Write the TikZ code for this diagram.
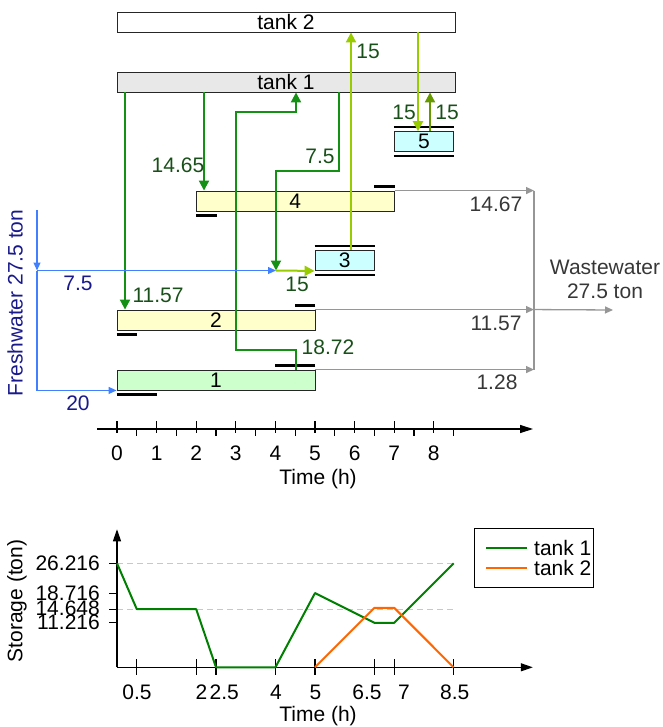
\documentclass[tikz,border=0pt]{standalone}
\usepackage{fontspec}
\setmainfont{Liberation Sans}
\usetikzlibrary{arrows.meta}
\definecolor{garrow}{RGB}{20,145,20}
\definecolor{glabel}{RGB}{25,80,25}
\definecolor{lgreen}{RGB}{153,204,0}
\definecolor{olive}{RGB}{102,153,0}
\definecolor{bline}{RGB}{64,128,255}
\definecolor{navy}{RGB}{25,25,140}
\definecolor{gline}{RGB}{150,150,150}
\definecolor{gtext}{RGB}{55,55,55}
\definecolor{tankgray}{RGB}{232,232,232}
\definecolor{opyellow}{RGB}{255,255,204}
\definecolor{opcyan}{RGB}{204,255,255}
\definecolor{opgreen}{RGB}{204,255,204}
\definecolor{cgreen}{RGB}{0,128,0}
\definecolor{corange}{RGB}{255,102,0}
\definecolor{dashgray}{RGB}{200,200,200}
\begin{document}
\begin{tikzpicture}[x=1pt,y=-1pt,
  every node/.style={font=\fontsize{21}{25}\selectfont, inner sep=0pt},
  box/.style={draw=black!85, line width=0.9pt, minimum height=20pt},
  garr/.style={draw=garrow, line width=2pt, -{Triangle[length=10pt,width=10pt]}},
  lgarr/.style={draw=lgreen, line width=2pt, -{Triangle[length=10pt,width=10pt]}},
  olarr/.style={draw=olive, line width=2pt, -{Triangle[length=10pt,width=10pt]}},
  barr/.style={draw=bline, line width=1.2pt, -{Triangle[length=8pt,width=7pt]}},
  grarr/.style={draw=gline, line width=1.3pt, -{Triangle[length=8pt,width=7pt]}},
  grline/.style={draw=gline, line width=1.3pt},
  bar/.style={draw=black, line width=2.2pt},
  glab/.style={text=glabel},
  blab/.style={text=navy},
  grlab/.style={text=gtext}]
\useasboundingbox (0,0) rectangle (662,727);

% tanks and operations
\node[box, fill=white, minimum width=338pt] (t2) at (286,22) {tank 2};
\node[box, fill=tankgray, minimum width=338pt] (t1) at (286,82) {tank 1};
\node[box, fill=opcyan, minimum width=59.4pt] (o5) at (423.9,141.7) {5};
\node[box, fill=opyellow, minimum width=198pt] (o4) at (295.2,201) {4};
\node[box, fill=opcyan, minimum width=59.4pt] (o3) at (344.7,260.5) {3};
\node[box, fill=opyellow, minimum width=198pt] (o2) at (216,320) {2};
\node[box, fill=opgreen, minimum width=198pt] (o1) at (216,380) {1};

% black bars
\draw[bar] ([yshift=4]o5.north west) -- ([yshift=4]o5.north east);
\draw[bar] ([yshift=-4]o5.south west) -- ([yshift=-4]o5.south east);
\draw[bar] ([yshift=3.8]o3.north west) -- ([yshift=3.8]o3.north east);
\draw[bar] ([yshift=-4]o3.south west) -- ([yshift=-4]o3.south east);
\draw[bar] ([yshift=-4]o4.south west) -- ++(21,0);
\draw[bar] ([yshift=4]o4.north east) -- ++(-21,0);
\draw[bar] ([yshift=-4]o2.south west) -- ++(20,0);
\draw[bar] ([yshift=4]o2.north east) -- ++(-20,0);
\draw[bar] ([yshift=-4]o1.south west) -- ++(40,0);
\draw[bar] ([yshift=4]o1.north east) -- ++(-40,0);

% column coordinates
\coordinate (cA) at (125,0);
\coordinate (cB) at (204,0);
\coordinate (cD) at (296,0);
\coordinate (cE) at (339,0);
\coordinate (cG) at (351,0);
\coordinate (cH) at (418,0);
\coordinate (cI) at (430,0);
\coordinate (cW) at (534,0);
\coordinate (g3a) at (236,350);
\coordinate (g3b) at (296,112);
\coordinate (g4a) at (276,171);
\coordinate (mix) at (276,270.5);
\coordinate (fwtop) at (37,210);
\coordinate (fj) at (37,270.5);
\coordinate (wout) at (613,310);

% green flows
\draw[garr] (t1.south -| cA) -- (o2.north -| cA);
\draw[garr] (t1.south -| cB) -- (o4.north -| cB);
\draw[garr] (o1.north -| cD) |- (g3a) |- (g3b) -- (t1.south -| cD);
\draw[garr] (t1.south -| cE) |- (g4a) -- (mix);
\draw[lgarr] (o3.north -| cG) -- (t2.south -| cG);
\draw[lgarr] (t2.south -| cH) -- (o5.north -| cH);
\draw[olarr] (o5.north -| cI) -- (t1.south -| cI);
\draw[lgarr] (mix) -- (o3.south west);

\node[glab] at (158,295) {11.57};
\node[glab] at (178,165) {14.65};
\node[glab] at (328,347) {18.72};
\node[glab] at (320,156) {7.5};
\node[glab] at (368,51) {15};
\node[glab] at (404,112) {15};
\node[glab] at (447,112) {15};
\node[glab] at (297,284) {15};

% freshwater
\draw[barr] (fwtop) -- (fj);
\draw[barr] (fj) -- (mix);
\draw[barr] (fj) |- (o1.south west);
\node[blab] at (78,283) {7.5};
\node[blab] at (78,403) {20};
\node[blab, rotate=90] at (15,303) {Freshwater 27.5 ton};

% wastewater
\draw[grarr] (o4.north east) -- (o4.north east -| cW);
\draw[grarr] (o2.north east) -- (o2.north east -| cW);
\draw[grarr] (o1.north east) -- (o1.north east -| cW);
\draw[grline] (o4.north east -| cW) -- (o1.north east -| cW);
\draw[grarr] (o2.north east -| cW) -- (wout);
\node[grlab] at (496,204) {14.67};
\node[grlab] at (496,323) {11.57};
\node[grlab] at (497,382) {1.28};
\node[grlab] at (605,267) {Wastewater};
\node[grlab] at (605,291) {27.5 ton};

% time axis
\draw[line width=1.2pt, -{Triangle[length=13pt,width=8pt]}] (97,429) -- (533,429);
\foreach \t in {0,...,8} {
  \draw[line width=1.1pt] ({117+39.6*\t},421) -- ({117+39.6*\t},433);
  \node at ({117+39.6*\t},453) {\t};
}
\foreach \t in {0.5,1.5,...,8.5} {
  \draw[line width=1.1pt] ({117+39.6*\t},429) -- ({117+39.6*\t},436);
}
\node at (318,479) {Time (h)};

% storage chart
\begin{scope}[shift={(117,667.3)}, x=39.6pt, y=3.967pt]
  \draw[dashgray, line width=1pt, dash pattern=on 6pt off 4pt] (0,26.216) -- (8.5,26.216);
  \draw[dashgray, line width=1pt, dash pattern=on 6pt off 4pt] (0,14.648) -- (8.5,14.648);
  \foreach \v in {26.216,18.716,14.648,11.216} {
    \draw[line width=1pt] (-0.2,\v) -- (0,\v);
  }
  \draw[line width=1.2pt, -{Triangle[length=12pt,width=8pt]}] (0,0) -- (0,34.8);
  \draw[line width=1.2pt, -{Triangle[length=12pt,width=8pt]}] (0,0) -- (10.5,0);
  \foreach \t in {0.5,2,2.5,4,5,6.5,7,8.5} {
    \draw[line width=1.1pt] (\t,2) -- (\t,-2);
  }
  \draw[cgreen, line width=2pt, line join=round]
    (0,26.216) -- (0.5,14.648) -- (2,14.648) -- (2.5,0) -- (4,0) -- (5,18.716)
    -- (6.5,11.216) -- (7,11.216) -- (8.5,26.216);
  \draw[corange, line width=2pt, line join=round]
    (5,0) -- (6.5,15) -- (7,15) -- (8.5,0);
\end{scope}
\node[anchor=east] at (100,563.3) {26.216};
\node[anchor=east] at (100,593.3) {18.716};
\node[anchor=east] at (100,608) {14.648};
\node[anchor=east] at (100,622.7) {11.216};
\node[rotate=90] at (17,601) {Storage (ton)};
\node at (137,692) {0.5};
\node at (201.5,692) {2};
\node at (224.3,692) {2.5};
\node at (276,692) {4};
\node at (315.5,692) {5};
\node at (367,692) {6.5};
\node at (404,692) {7};
\node at (454.7,692) {8.5};
\node at (318,716) {Time (h)};

% legend
\node[draw=black, line width=1pt, minimum width=119pt, minimum height=59.4pt] (leg) at (533.8,558) {};
\draw[cgreen, line width=2pt] (486,548.3) -- (527,548.3);
\draw[corange, line width=2pt] (486,567.7) -- (527,567.7);
\node[anchor=west] at (534,548.3) {tank 1};
\node[anchor=west] at (534,567.7) {tank 2};
\end{tikzpicture}
\end{document}
